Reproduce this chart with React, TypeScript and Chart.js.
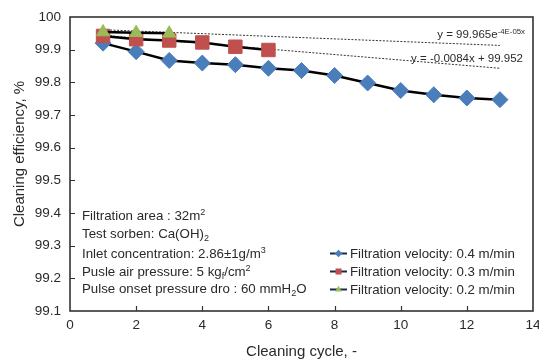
import React, { useEffect, useRef } from 'react';
import { Chart, registerables } from 'chart.js';

Chart.register(...registerables);

// ---- data ----
const cycles04 = [1, 2, 3, 4, 5, 6, 7, 8, 9, 10, 11, 12, 13];
const eff04 = [99.92, 99.894, 99.867, 99.859, 99.854, 99.843, 99.836, 99.821, 99.798, 99.775, 99.762, 99.752, 99.747];
const cycles03 = [1, 2, 3, 4, 5, 6];
const eff03 = [99.942, 99.932, 99.928, 99.922, 99.909, 99.899];
const cycles02 = [1, 2, 3];
const eff02 = [99.954, 99.952, 99.95];
const trendExpX = [1, 13];
const trendExpY = [99.961, 99.913];
const trendLinX = [1, 13];
const trendLinY = [99.944, 99.843];

const seriesLabels = [
  'Filtration velocity: 0.4 m/min',
  'Filtration velocity: 0.3 m/min',
  'Filtration velocity: 0.2 m/min',
];
const xTitle = 'Cleaning cycle, -';
const yTitle = 'Cleaning efficiency, %';
const xMin = 0, xMax = 14, xStep = 2;
const yMin = 99.1, yMax = 100, yStep = 0.1;

type Part = { t: string; sup?: boolean; sub?: boolean };
const noteLines: Part[][] = [
  [{ t: 'Filtration area : 32m' }, { t: '2', sup: true }],
  [{ t: 'Test sorben: Ca(OH)' }, { t: '2', sub: true }],
  [{ t: 'Inlet concentration: 2.86\u00b11g/m' }, { t: '3', sup: true }],
  [{ t: 'Pusle air pressure: 5 kg' }, { t: 'f', sub: true }, { t: '/cm' }, { t: '2', sup: true }],
  [{ t: 'Pulse onset pressure dro : 60 mmH' }, { t: '2', sub: true }, { t: 'O' }],
];
const eqExp: Part[] = [{ t: 'y = 99.965e' }, { t: '-4E-05x', sup: true }];
const eqLin: Part[] = [{ t: 'y = -0.0084x + 99.952' }];

const BLUE = '#4a7ebb';
const RED = '#c0504d';
const GREEN = '#9bbb59';
const FONT = '"Liberation Sans", Arial, sans-serif';
const TEXT = '#2a2a2a';

const pts = (xs: number[], ys: number[]) => xs.map((x, i) => ({ x, y: ys[i] }));

function richWidth(ctx: CanvasRenderingContext2D, parts: Part[], size: number) {
  let w = 0;
  for (const p of parts) {
    const s = p.sup || p.sub ? size * 0.68 : size;
    ctx.font = `${s}px ${FONT}`;
    w += ctx.measureText(p.t).width;
  }
  return w;
}
function drawRich(ctx: CanvasRenderingContext2D, x: number, y: number, parts: Part[], size: number) {
  let cx = x;
  for (const p of parts) {
    const s = p.sup || p.sub ? size * 0.68 : size;
    ctx.font = `${s}px ${FONT}`;
    const dy = p.sup ? -size * 0.38 : p.sub ? size * 0.22 : 0;
    ctx.fillText(p.t, cx, y + dy);
    cx += ctx.measureText(p.t).width;
  }
}

const overlay = {
  id: 'overlay',
  afterDraw(chart: any) {
    const { ctx, chartArea: a, scales } = chart;
    const xs = scales.x, ys = scales.y;
    ctx.save();
    // frame
    ctx.strokeStyle = '#333';
    ctx.lineWidth = 1.6;
    ctx.strokeRect(a.left, a.top, a.right - a.left, a.bottom - a.top);
    // inward ticks
    ctx.lineWidth = 1.2;
    ctx.beginPath();
    for (let v = yMin + yStep; v < yMax - 1e-9; v += yStep) {
      const py = Math.round(ys.getPixelForValue(v)) + 0.5;
      ctx.moveTo(a.left, py);
      ctx.lineTo(a.left + 5, py);
    }
    for (let v = xMin + xStep; v < xMax; v += xStep) {
      const px = Math.round(xs.getPixelForValue(v)) + 0.5;
      ctx.moveTo(px, a.bottom);
      ctx.lineTo(px, a.bottom - 5);
    }
    ctx.stroke();

    ctx.fillStyle = TEXT;
    ctx.textBaseline = 'alphabetic';
    ctx.textAlign = 'left';
    // notes
    const noteSize = 13.3;
    const noteBase = [220, 238, 258, 276, 293];
    noteLines.forEach((ln, i) => drawRich(ctx, 82, noteBase[i], ln, noteSize));
    // equations
    const eqSize = 11.5;
    drawRich(ctx, 525 - richWidth(ctx, eqExp, eqSize), 38, eqExp, eqSize);
    drawRich(ctx, 523 - richWidth(ctx, eqLin, eqSize), 61.5, eqLin, eqSize);

    // legend
    const legY = [253.5, 271.5, 289.5];
    const legCol = [BLUE, RED, GREEN];
    const legStyle = ['rectRot', 'rect', 'triangle'];
    legY.forEach((y, i) => {
      ctx.strokeStyle = '#1a2a4a';
      ctx.lineWidth = 2;
      ctx.beginPath();
      ctx.moveTo(330, y);
      ctx.lineTo(347, y);
      ctx.stroke();
      ctx.fillStyle = legCol[i];
      const r = legStyle[i] === 'rect' ? 4.2 : 3.8;
      const cx = 338.5;
      ctx.beginPath();
      if (legStyle[i] === 'rectRot') {
        ctx.moveTo(cx, y - r); ctx.lineTo(cx + r, y); ctx.lineTo(cx, y + r); ctx.lineTo(cx - r, y);
      } else if (legStyle[i] === 'rect') {
        const h = r * 0.72;
        ctx.rect(cx - h, y - h, 2 * h, 2 * h);
      } else {
        ctx.moveTo(cx, y - r); ctx.lineTo(cx + r * 0.9, y + r * 0.5); ctx.lineTo(cx - r * 0.9, y + r * 0.5);
      }
      ctx.closePath();
      ctx.fill();
      ctx.fillStyle = TEXT;
      ctx.font = `${noteSize}px ${FONT}`;
      ctx.fillText(seriesLabels[i], 350, y + 4.7);
    });

    // y title
    ctx.save();
    ctx.translate(20, 154);
    ctx.rotate(-Math.PI / 2);
    ctx.textAlign = 'center';
    ctx.textBaseline = 'middle';
    ctx.font = `15px ${FONT}`;
    ctx.fillStyle = TEXT;
    ctx.fillText(yTitle, 0, 0);
    ctx.restore();
    ctx.restore();
  },
};

export default function App() {
  const ref = useRef<HTMLCanvasElement | null>(null);
  useEffect(() => {
    if (!ref.current) return;
    const chart = new Chart(ref.current, {
      type: 'scatter',
      data: {
        datasets: [
          {
            label: seriesLabels[2],
            data: pts(cycles02, eff02),
            showLine: true,
            borderColor: '#000',
            borderWidth: 2.5,
            pointStyle: 'triangle',
            pointRadius: 7.5,
            pointBackgroundColor: GREEN,
            pointBorderColor: GREEN,
            pointBorderWidth: 1,
            order: 0,
          },
          {
            label: seriesLabels[1],
            data: pts(cycles03, eff03),
            showLine: true,
            borderColor: '#000',
            borderWidth: 2.5,
            pointStyle: 'rect',
            pointRadius: 9.5,
            pointBackgroundColor: RED,
            pointBorderColor: RED,
            pointBorderWidth: 1,
            order: 1,
          },
          {
            label: seriesLabels[0],
            data: pts(cycles04, eff04),
            showLine: true,
            borderColor: '#000',
            borderWidth: 2.5,
            pointStyle: 'rectRot',
            pointRadius: 8,
            pointBackgroundColor: BLUE,
            pointBorderColor: BLUE,
            pointBorderWidth: 1,
            order: 2,
          },
          {
            label: 'exp trend',
            data: pts(trendExpX, trendExpY),
            showLine: true,
            borderColor: '#333',
            borderWidth: 1,
            borderDash: [2, 1.5],
            pointRadius: 0,
            order: 3,
          },
          {
            label: 'linear trend',
            data: pts(trendLinX, trendLinY),
            showLine: true,
            borderColor: '#333',
            borderWidth: 1,
            borderDash: [2, 1.5],
            pointRadius: 0,
            order: 3,
          },
        ],
      },
      options: {
        responsive: false,
        animation: false,
        layout: { autoPadding: false, padding: { left: 0, top: 17, right: 6, bottom: 0 } },
        plugins: { legend: { display: false }, tooltip: { enabled: false } },
        scales: {
          x: {
            type: 'linear',
            min: xMin,
            max: xMax,
            grid: { display: false, drawTicks: false },
            border: { display: false },
            ticks: { stepSize: xStep, padding: 6, color: TEXT, font: { family: FONT, size: 13.5 } },
            title: { display: true, text: xTitle, color: TEXT, font: { family: FONT, size: 15 }, padding: { top: 0, bottom: 1 } },
            afterFit: (s: any) => { s.height = 51; s.paddingLeft = 0; s.paddingRight = 0; },
          },
          y: {
            type: 'linear',
            min: yMin,
            max: yMax,
            grid: { display: false, drawTicks: false },
            border: { display: false },
            ticks: {
              stepSize: yStep,
              padding: 9,
              color: TEXT,
              font: { family: FONT, size: 13.5 },
              callback: (v: any) => String(Number(Number(v).toFixed(1))),
            },
            afterFit: (s: any) => { s.width = 70; s.paddingTop = 0; s.paddingBottom = 0; },
          },
        },
      },
      plugins: [overlay],
    });
    return () => chart.destroy();
  }, []);
  return (
    <div style={{ position: 'absolute', left: 0, top: 0, width: 539, height: 362, background: '#fff' }}>
      <canvas ref={ref} width={539} height={362} />
    </div>
  );
}
